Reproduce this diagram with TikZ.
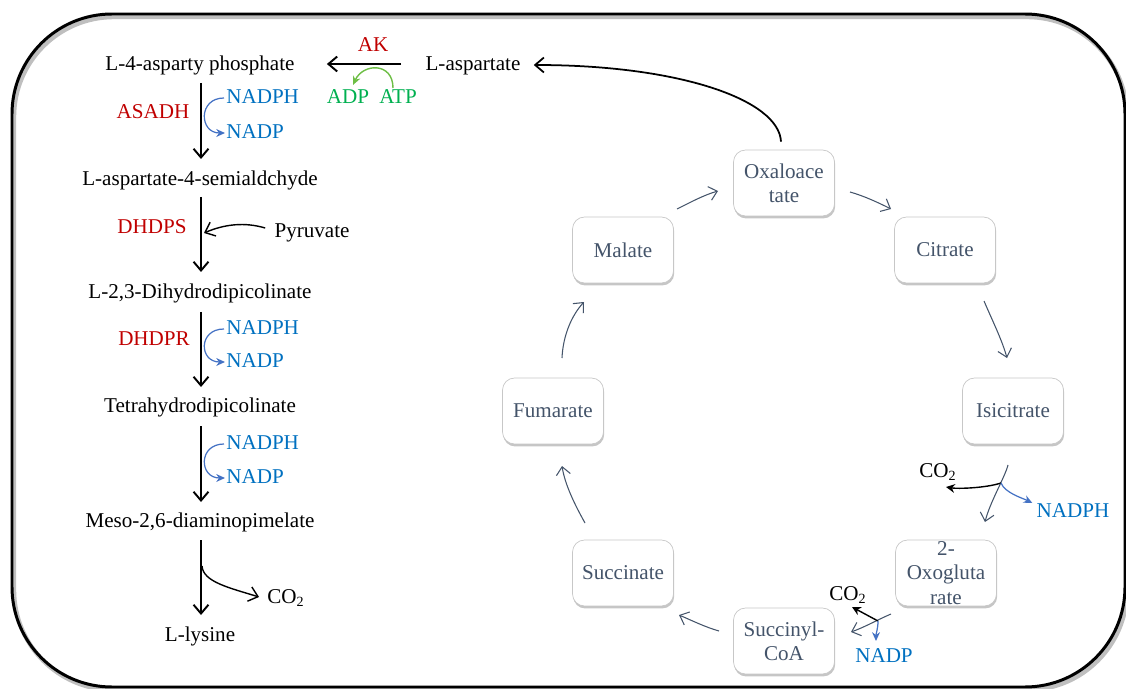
\documentclass[tikz,border=0pt]{standalone}
\usepackage{fontspec}
\setmainfont{Liberation Serif}
\usetikzlibrary{arrows.meta,shadows,calc}
\definecolor{enzred}{HTML}{C00000}
\definecolor{cofblue}{HTML}{0070C0}
\definecolor{arcblue}{HTML}{4472C4}
\definecolor{cofgreen}{HTML}{00B050}
\definecolor{arcgreen}{HTML}{6DBE45}
\definecolor{tcatext}{HTML}{44546A}
\definecolor{tcaline}{HTML}{44546A}
\begin{document}
\begin{tikzpicture}[x=0.02cm,y=-0.02cm,
  txt/.style={font=\fontsize{12}{13.8}\selectfont, inner sep=0pt, text height=8.5pt, text depth=2.5pt},
  met/.style={txt, text=black},
  enz/.style={txt, text=enzred},
  cof/.style={txt, text=cofblue},
  cofg/.style={txt, text=cofgreen},
  box/.style={draw=black!22, fill=white, rounded corners=0.24cm, minimum width=2.02cm,
    minimum height=1.32cm, inner xsep=1pt, inner ysep=0pt, align=center, text=tcatext,
    font=\fontsize{12}{13.8}\selectfont,
    drop shadow={shadow xshift=0.4pt, shadow yshift=-1.4pt, opacity=0.45}},
  mainarr/.style={draw=black, line width=1.1pt, -{Straight Barb[length=5pt,width=8.5pt]}},
  bluearc/.style={draw=arcblue, line width=0.7pt, -{Stealth[length=5pt,width=4.5pt]}},
  greenarc/.style={draw=arcgreen, line width=0.8pt, -{Stealth[length=5pt,width=4.5pt]}},
  tca/.style={draw=tcaline, line width=0.6pt, -{Straight Barb[length=4.5pt,width=8pt]}},
  smallblk/.style={draw=black, line width=0.8pt, -{Stealth[length=5pt,width=5pt]}}
]
\useasboundingbox (0,0) rectangle (1126,689);
% frame
\draw[black!25, line width=2.5pt, rounded corners=2cm] (14,17) rectangle (1127,690);
\draw[black, line width=1.7pt, rounded corners=2cm] (12,14) rectangle (1125,687);

% left column metabolites
\node[met] (asp4p) at (200,65) {L-4-asparty phosphate};
\node[met] (asa) at (200,180) {L-aspartate-4-semialdchyde};
\node[met] (dhdp) at (200,293) {L-2,3-Dihydrodipicolinate};
\node[met] (thdp) at (200,407) {Tetrahydrodipicolinate};
\node[met] (dap) at (200,522) {Meso-2,6-diaminopimelate};
\node[met] (lys) at (200,636) {L-lysine};
\node[met] (asp) at (473,65) {L-aspartate};

% enzymes
\node[enz] (ak) at (373,46) {AK};
\node[enz] (asadh) at (153,113) {ASADH};
\node[enz] (dhdps) at (152,228) {DHDPS};
\node[enz] (dhdpr) at (154,340) {DHDPR};

% cofactors
\node[cof, anchor=west] (nadph1) at (226,98) {NADPH};
\node[cof, anchor=west] (nadp1) at (226,133) {NADP};
\node[cof, anchor=west] (nadph2) at (226,329) {NADPH};
\node[cof, anchor=west] (nadp2) at (226,362) {NADP};
\node[cof, anchor=west] (nadph3) at (226,444) {NADPH};
\node[cof, anchor=west] (nadp3) at (226,478) {NADP};
\node[met] (pyr) at (312,232) {Pyruvate};
\node[met] (co2a) at (286,598) {CO\textsubscript{2}};
\node[cofg] (adp) at (348,98) {ADP};
\node[cofg] (atp) at (398,98) {ATP};

% main arrows
\draw[mainarr] ($(asp4p)+(1,18)$) -- ($(asa)+(1,-21)$);
\draw[mainarr] ($(asa)+(1,17)$) -- ($(dhdp)+(1,-21)$);
\draw[mainarr] ($(dhdp)+(1,19)$) -- ($(thdp)+(1,-20)$);
\draw[mainarr] ($(thdp)+(1,19)$) -- ($(dap)+(1,-20)$);
\draw[mainarr] ($(dap)+(1,18)$) -- ($(lys)+(1,-21)$);
\draw[mainarr] ($(asp.west)+(-24,-1)$) -- ($(asp4p.east)+(32,-1)$);

% cofactor arcs
\draw[bluearc] ($(nadph1.west)+(-2,0)$) .. controls +(-26,0) and +(-26,0) .. ($(nadp1.west)+(-1,0)$);
\draw[bluearc] ($(nadph2.west)+(-2,0)$) .. controls +(-26,0) and +(-26,0) .. ($(nadp2.west)+(-1,0)$);
\draw[bluearc] ($(nadph3.west)+(-2,0)$) .. controls +(-26,0) and +(-26,0) .. ($(nadp3.west)+(-1,0)$);
\draw[greenarc] ($(atp)+(-5,-10)$) .. controls +(0,-26) and +(10,-22) .. ($(adp)+(5,-13)$);
\draw[mainarr, line width=0.8pt] ($(pyr.west)+(-9,-4)$) .. controls (245,222) and (225,224) .. (204,233);
\draw[mainarr, line width=0.8pt] (202,566) .. controls (203,582) and (230,588) .. ($(co2a.west)+(-8,-1)$);

% TCA cycle
\node[box] (oxa) at (784,183) {Oxaloace\\tate};
\node[box] (cit) at (945,250) {Citrate};
\node[box] (isc) at (1013,411) {Isicitrate};
\node[box] (oxg) at (946,573) {2-\\Oxogluta\\rate};
\node[box] (suc) at (784,641) {Succinyl-\\CoA};
\node[box] (sucn) at (623,573) {Succinate};
\node[box] (fum) at (553,411) {Fumarate};
\node[box] (mal) at (623,250) {Malate};

\draw[mainarr, line width=1pt] ($(oxa.north)+(-3,-8)$) .. controls (779,100) and (680,65) .. ($(asp.east)+(13,0)$);

\draw[tca] ($(mal)+(54,-41)$) .. controls +(14,-7) and +(-14,4) .. ($(oxa)+(-66,8)$);
\draw[tca] ($(oxa)+(66,9)$) .. controls +(14,4) and +(-14,-7) .. ($(cit)+(-54,-41)$);
\draw[tca] ($(cit)+(39,51)$) .. controls +(9,21) and +(-5,-18) .. ($(isc)+(-6,-53)$);
\coordinate (b1) at ($(isc)+(-12,72)$);
\draw[tca] ($(isc)+(-5,54)$) .. controls +(-3,12) and +(5,-20) .. ($(oxg)+(39,-51)$);
\coordinate (b2) at ($(oxg)+(-68,48)$);
\draw[tca] ($(oxg)+(-55,41)$) .. controls +(-14,6) and +(14,-5) .. ($(suc)+(67,-9)$);
\draw[tca] ($(suc)+(-65,-10)$) .. controls +(-14,-4) and +(14,6) .. ($(sucn)+(56,42)$);
\draw[tca] ($(sucn)+(-38,-50)$) .. controls +(-10,-18) and +(3,19) .. ($(fum)+(9,55)$);
\draw[tca] ($(fum)+(9,-53)$) .. controls +(1,-23) and +(-12,13) .. ($(mal)+(-39,52)$);

\node[met] (co2b) at (938,472) {CO\textsubscript{2}};
\node[cof] (nadph4) at (1073,512) {NADPH};
\node[met] (co2c) at (848,595) {CO\textsubscript{2}};
\node[cof] (nadp4) at (884,657) {NADP};

\draw[smallblk] (b1) .. controls +(-15,5) and +(12,2) .. ($(co2b)+(8,15)$);
\draw[bluearc] (b1) .. controls +(4,10) and +(-10,-5) .. ($(nadph4.west)+(-4,-9)$);
\draw[smallblk] (b2) -- ($(co2c)+(4,12)$);
\draw[bluearc] (b2) .. controls +(0,8) and +(0,-8) .. ($(nadp4.north)+(-8,-6)$);
\end{tikzpicture}
\end{document}
